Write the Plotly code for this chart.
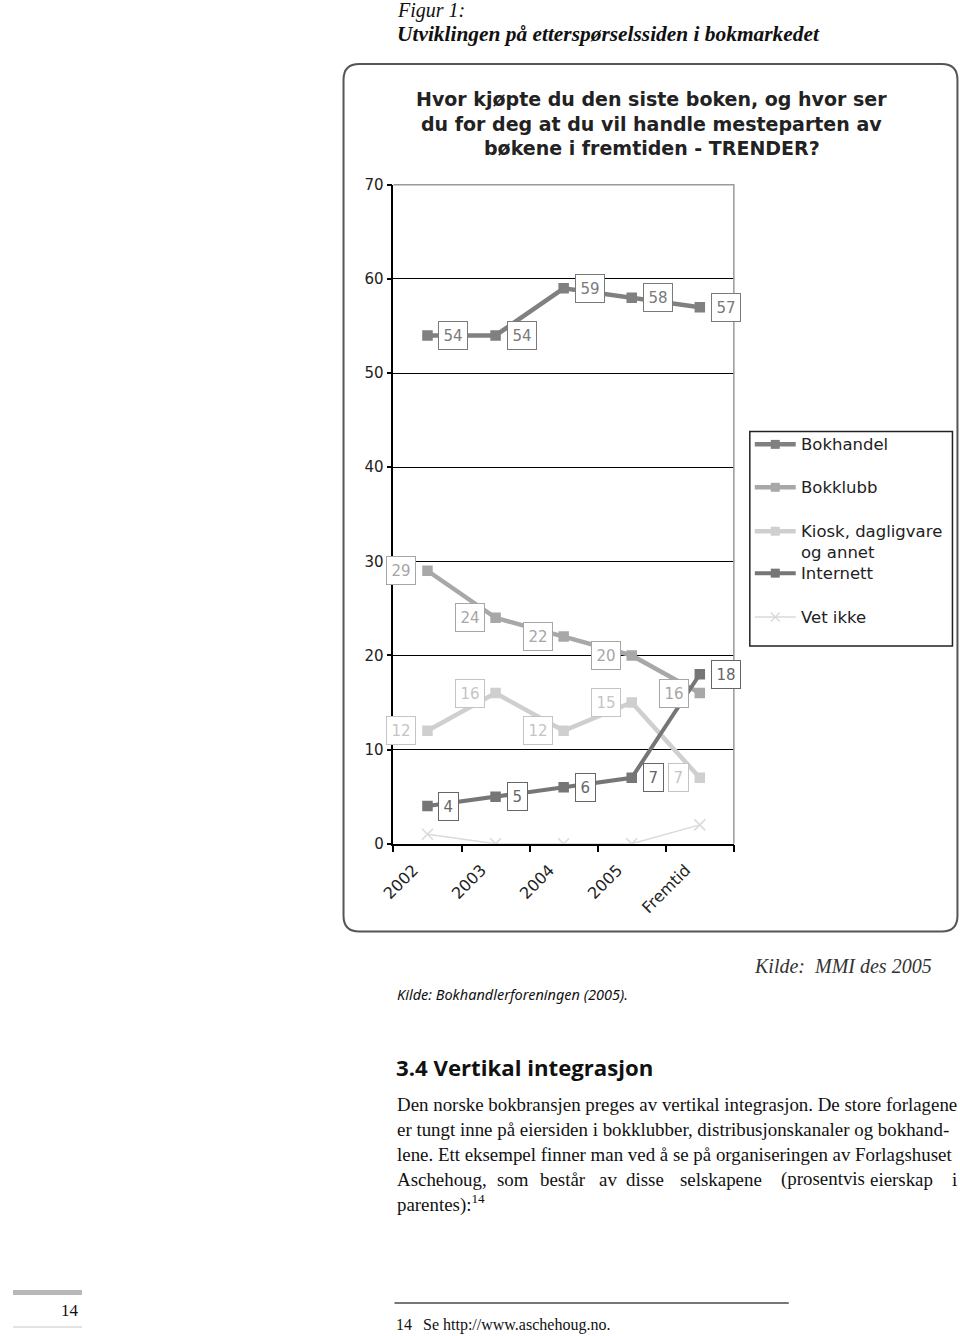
import plotly.graph_objects as go

# ---------------- data ----------------
categories = ["2002", "2003", "2004", "2005", "Fremtid"]
bokhandel = [54, 54, 59, 58, 57]
bokklubb = [29, 24, 22, 20, 16]
kiosk = [12, 16, 12, 15, 7]
internett = [4, 5, 6, 7, 18]
vet_ikke = [1, 0, 0, 0, 2]

series_names = ["Bokhandel", "Bokklubb", "Kiosk, dagligvare<br>og annet", "Internett", "Vet ikke"]
y_ticks = [0, 10, 20, 30, 40, 50, 60, 70]

W, H = 960, 1336
# the page is shown with a small body margin and scaled to fit; map target pixels to figure pixels
S = 1336 / 1352
OFF = 8
XADJ = 4


def fx(t):
    return (t - XADJ) / S - OFF


def fy(t):
    return t / S - OFF


def px(t):
    return min(max(fx(t) / W, 0), 1)


def py(t):
    return min(max(1 - fy(t) / H, 0), 1)


PL, PR, PT, PB = 393, 734, 184, 844

SANS = "DejaVu Sans"
SERIF = "Liberation Serif"

styles = [
    dict(name=series_names[0], y=bokhandel, color="#808080", width=4.5, symbol="square", msize=9, side="right", lab=True, lcolor="#7a7a7a"),
    dict(name=series_names[1], y=bokklubb, color="#a8a8a8", width=4.5, symbol="square", msize=9, side="left", lab=True, lcolor="#a6a6a6"),
    dict(name=series_names[2], y=kiosk, color="#cfcfcf", width=4.5, symbol="square", msize=9, side="left", lab=True, lcolor="#c4c4c4"),
    dict(name=series_names[3], y=internett, color="#767676", width=4, symbol="square", msize=9, side="right", lab=True, lcolor="#666666"),
    dict(name=series_names[4], y=vet_ikke, color="#dadada", width=1.5, symbol="x-thin", msize=11, side=None, lab=False, lcolor="#dadada"),
]

fig = go.Figure()
for s in styles:
    fig.add_trace(go.Scatter(
        x=categories, y=s["y"], mode="lines+markers", name=s["name"].replace("<br>", " "),
        line=dict(color=s["color"], width=s["width"]),
        marker=dict(symbol=s["symbol"], size=s["msize"], color=s["color"],
                    line=dict(color=s["color"], width=1.5)),
        showlegend=False, hoverinfo="x+y+name",
    ))

annotations = []
for s in styles:
    if not s["lab"]:
        continue
    for i, v in enumerate(s["y"]):
        right = s["side"] == "right"
        annotations.append(dict(
            x=i, y=v, xref="x", yref="y", text=str(v), showarrow=False,
            xanchor="left" if right else "right", yanchor="middle",
            xshift=11 if right else -11,
            font=dict(family=SANS, size=15, color=s["lcolor"]),
            bgcolor="white", bordercolor=s["lcolor"], borderwidth=1, borderpad=4.5,
        ))

shapes = []
# chart frame (rounded corners)
x0, y0, r = px(343), py(63), 16
x1 = min(px(958), 959 / W)
y1 = py(932)
rx, ry = r / W, r / H
shapes.append(dict(
    type="path", xref="paper", yref="paper",
    path=(f"M {x0+rx},{y0} L {x1-rx},{y0} Q {x1},{y0} {x1},{y0-ry} "
          f"L {x1},{y1+ry} Q {x1},{y1} {x1-rx},{y1} L {x0+rx},{y1} "
          f"Q {x0},{y1} {x0},{y1+ry} L {x0},{y0-ry} Q {x0},{y0} {x0+rx},{y0} Z"),
    line=dict(color="#555555", width=2), layer="below",
))
# plot area gray top/right border
shapes.append(dict(
    type="path", xref="paper", yref="paper",
    path=f"M {px(PL)},{py(PT)} L {px(PR)},{py(PT)} L {px(PR)},{py(PB)}",
    line=dict(color="#9a9a9a", width=1.5), layer="above",
))

# legend (drawn by hand to match the original spacing)
shapes.append(dict(type="rect", xref="paper", yref="paper",
                   x0=px(750), x1=px(953), y0=py(646), y1=py(431),
                   line=dict(color="#222222", width=1.5), fillcolor="white", layer="below"))
leg_y = [444, 487, 531, 573, 617]
for s, yy in zip(styles, leg_y):
    shapes.append(dict(type="line", xref="paper", yref="paper",
                       x0=px(755), x1=px(796), y0=py(yy), y1=py(yy),
                       line=dict(color=s["color"], width=s["width"])))
    if s["symbol"] == "square":
        shapes.append(dict(type="rect", xref="paper", yref="paper",
                           x0=px(771), x1=px(780), y0=py(yy + 4.5), y1=py(yy - 4.5),
                           line=dict(color=s["color"], width=0), fillcolor=s["color"]))
    else:
        for d in (1, -1):
            shapes.append(dict(type="line", xref="paper", yref="paper",
                               x0=px(771), x1=px(780), y0=py(yy + 4.5 * d), y1=py(yy - 4.5 * d),
                               line=dict(color=s["color"], width=1.5)))
    two = "<br>" in s["name"]
    annotations.append(dict(
        x=px(799), y=py(yy), xref="paper", yref="paper", text=s["name"], showarrow=False,
        xanchor="left", yanchor="top" if two else "middle",
        yshift=11 if two else 0, align="left",
        font=dict(family=SANS, size=16.5, color="#222222"),
    ))

# chart title
title_lines = ["Hvor kjøpte du den siste boken, og hvor ser",
               "du for deg at du vil handle mesteparten av",
               "bøkene i fremtiden - TRENDER?"]
for t, yy in zip(title_lines, [98.5, 123.5, 147.5]):
    annotations.append(dict(x=px(652), y=py(yy), xref="paper", yref="paper", text=f"<b>{t}</b>",
                            showarrow=False, xanchor="center", yanchor="middle",
                            font=dict(family=SANS, size=19, color="#222222")))


def page_text(text, x, y, family, size, color="#111111", anchor="left"):
    annotations.append(dict(x=px(x), y=py(y), xref="paper", yref="paper", text=text, showarrow=False,
                            xanchor=anchor, yanchor="middle", font=dict(family=family, size=size, color=color)))


page_text("<i>Figur 1:</i>", 395, 9.5, SERIF, 20)
page_text("<b><i>Utviklingen på etterspørselssiden i bokmarkedet</i></b>", 395, 32.5, SERIF, 21.4)
page_text("<i>Kilde:  MMI des 2005</i>", 752, 966, SERIF, 20, "#333333")
page_text("<i>Kilde: Bokhandlerforeningen (2005).</i>", 395, 995, "Noto Sans", 14.5, "#111111")
page_text("<b>3.4 Vertikal integrasjon</b>", 394, 1068, "Open Sans", 22.2, "#111111")

para = [
    "Den norske bokbransjen preges av vertikal integrasjon. De store forlagene",
    "er tungt inne på eiersiden i bokklubber, distribusjonskanaler og bokhand-",
    "lene. Ett eksempel finner man ved å se på organiseringen av Forlagshuset",
]
for t, yy in zip(para, [1105, 1130, 1155]):
    page_text(t, 395, yy, SERIF, 18.9)
line4_words = ["Aschehoug,", "som", "består", "av", "disse", "selskapene", "(prosentvis", "eierskap", "i"]
line4_x = [395, 495, 538, 597, 624, 678, 779, 868, 951]
for w, xx in zip(line4_words, line4_x):
    page_text(w, xx, 1180, SERIF, 18.9)
page_text("parentes):<sup>14</sup>", 395, 1204, SERIF, 18.9)

# page footer
shapes.append(dict(type="line", xref="paper", yref="paper", x0=0, x1=px(81), y0=py(1293.5), y1=py(1293.5),
                   line=dict(color="#b8b8b8", width=5)))
shapes.append(dict(type="line", xref="paper", yref="paper", x0=0, x1=px(81), y0=py(1331), y1=py(1331),
                   line=dict(color="#c8c8c8", width=1)))
shapes.append(dict(type="line", xref="paper", yref="paper", x0=px(394), x1=px(789), y0=py(1304), y1=py(1304),
                   line=dict(color="#777777", width=2)))
page_text("14", 80, 1312, SERIF, 17, anchor="right")
page_text("14", 394, 1326, SERIF, 16)
page_text("Se http://www.aschehoug.no.", 421, 1326, SERIF, 16)

fig.update_layout(
    width=W, height=H, margin=dict(l=0, r=0, t=0, b=0),
    paper_bgcolor="white", plot_bgcolor="white",
    showlegend=False,
    xaxis=dict(domain=[px(PL), px(PR)], type="category", range=[-0.5, 4.5],
               tickson="boundaries", ticks="outside", ticklen=7, tickwidth=1.5, tickcolor="#000",
               showline=True, linecolor="#000", linewidth=1.5, showgrid=False,
               tickangle=-45, ticklabelshift=-14, ticklabelstandoff=9,
               tickfont=dict(family=SANS, size=16, color="#222222")),
    yaxis=dict(domain=[py(PB), py(PT)], range=[0, 70], tickvals=y_ticks,
               ticks="outside", ticklen=5, tickwidth=1.5, tickcolor="#000",
               showline=True, linecolor="#000", linewidth=1.5,
               showgrid=True, gridcolor="#000", gridwidth=1, zeroline=False,
               tickfont=dict(family=SANS, size=15, color="#222222")),
    annotations=annotations, shapes=shapes,
)

fig.write_html("out.html")
